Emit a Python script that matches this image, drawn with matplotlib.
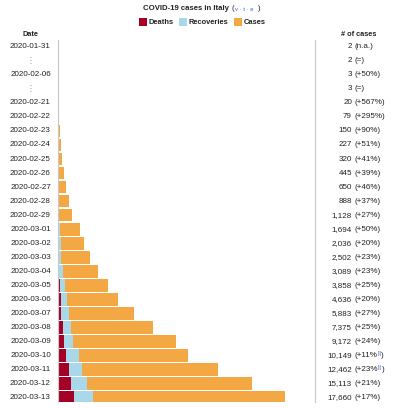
import matplotlib
matplotlib.use("Agg")
import matplotlib.pyplot as plt
from matplotlib.transforms import blended_transform_factory

plt.rcParams['font.family'] = ['Liberation Sans', 'DejaVu Sans']

# rows of the table, top to bottom ("⋮" rows are gaps in the dates)
dates = ["2020-01-31", "⋮", "2020-02-06", "⋮",
         "2020-02-21", "2020-02-22", "2020-02-23", "2020-02-24", "2020-02-25",
         "2020-02-26", "2020-02-27", "2020-02-28", "2020-02-29", "2020-03-01",
         "2020-03-02", "2020-03-03", "2020-03-04", "2020-03-05", "2020-03-06",
         "2020-03-07", "2020-03-08", "2020-03-09", "2020-03-10", "2020-03-11",
         "2020-03-12", "2020-03-13"]
cases = [2, 2, 3, 3, 20, 79, 150, 227, 320, 445, 650, 888, 1128, 1694,
         2036, 2502, 3089, 3858, 4636, 5883, 7375, 9172, 10149, 12462,
         15113, 17660]
deaths = [0, 0, 0, 0, 1, 2, 3, 7, 10, 12, 17, 21, 29, 34,
          52, 79, 107, 148, 197, 233, 366, 463, 631, 827, 1016, 1266]
recoveries = [0, 0, 0, 0, 0, 0, 0, 1, 1, 3, 45, 46, 50, 83,
              149, 160, 276, 414, 523, 589, 622, 724, 1004, 1045, 1258, 1439]
has_bar = [True, False, True, False] + [True] * 22
count_labels = ["2", "2", "3", "3", "20", "79", "150", "227", "320", "445",
                "650", "888", "1,128", "1,694", "2,036", "2,502", "3,089",
                "3,858", "4,636", "5,883", "7,375", "9,172", "10,149",
                "12,462", "15,113", "17,660"]
change_labels = ["(n.a.)", "(=)", "(+50%)", "(=)", "(+567%)", "(+295%)",
                 "(+90%)", "(+51%)", "(+41%)", "(+39%)", "(+46%)", "(+37%)",
                 "(+27%)", "(+50%)", "(+20%)", "(+23%)", "(+23%)", "(+25%)",
                 "(+20%)", "(+27%)", "(+25%)", "(+24%)", "(+11%", "(+23%",
                 "(+21%)", "(+17%)"]
footnoted = [False] * 22 + [True, True] + [False] * 2

c_death = "#A50026"
c_rec = "#A8D8EA"
c_case = "#F4A843"
c_text = "#222222"
c_link = "#3366CC"

W, H = 400, 408
fig = plt.figure(figsize=(W / 100, H / 100), dpi=100)


def fx(px):
    return px / W


def fy(py):
    return 1 - py / H


# axes for the bars, placed in pixel terms
ax_l, ax_r, ax_t, ax_b = 58, 315, 40, 402
ax = fig.add_axes([fx(ax_l), fy(ax_b), fx(ax_r - ax_l), (ax_b - ax_t) / H])
n = len(dates)
pitch = 14.04
row0 = 46.7
ax.set_ylim((ax_b - row0) / pitch, (ax_t - row0) / pitch)
bar_end = 285
ax.set_xlim(0, max(cases) * (ax_r - ax_l) / (bar_end - ax_l))

ys = list(range(n))
d = [deaths[i] if has_bar[i] else 0 for i in ys]
r = [recoveries[i] if has_bar[i] else 0 for i in ys]
a = [(cases[i] - deaths[i] - recoveries[i]) if has_bar[i] else 0 for i in ys]
left_a = [d[i] + r[i] for i in ys]
ax.barh(ys, d, height=0.9, color=c_death, linewidth=0)
ax.barh(ys, r, left=d, height=0.9, color=c_rec, linewidth=0)
ax.barh(ys, a, left=left_a, height=0.9, color=c_case, linewidth=0)

for s in ["top", "bottom"]:
    ax.spines[s].set_visible(False)
for s in ["left", "right"]:
    ax.spines[s].set_color("#C8C8C8")
    ax.spines[s].set_linewidth(0.8)
ax.set_xticks([])
ax.set_yticks([])

tr = blended_transform_factory(fig.transFigure, ax.transData)
fs = 5.8
for i in ys:
    if dates[i] == "⋮":
        ax.text(fx(30.5), i, "⋮", transform=tr, ha="center", va="center",
                fontsize=fs, color="#888888", family="DejaVu Sans")
    else:
        ax.text(fx(30.5), i, dates[i], transform=tr, ha="center", va="center",
                fontsize=fs, color=c_text)
    ax.text(fx(352), i, count_labels[i], transform=tr, ha="right",
            va="center", fontsize=fs, color=c_text)
    t = ax.text(fx(354.5), i, change_labels[i], transform=tr, ha="left",
                va="center", fontsize=fs, color=c_text)
    if footnoted[i]:
        sup = ax.annotate("[i]", xy=(1, 0.5), xycoords=t, ha="left",
                          va="bottom", fontsize=fs * 0.6, color=c_link)
        ax.annotate(")", xy=(1, 0), xycoords=(sup, t), ha="left",
                    va="bottom", fontsize=fs, color=c_text,
                    annotation_clip=False)

# header
fig.text(fx(30.5), fy(34.7), "Date", ha="center", va="center",
         fontsize=5.3, fontweight="bold", color=c_text)
fig.text(fx(359), fy(34.7), "# of cases", ha="center", va="center",
         fontsize=5.3, fontweight="bold", color=c_text)

# title
fig.text(fx(229), fy(9), "COVID-19 cases in Italy", ha="right", va="center",
         fontsize=5.6, fontweight="bold", color=c_text)
fig.text(fx(232), fy(9), "(", ha="left", va="center", fontsize=5.6,
         color=c_text)
fig.text(fx(235), fy(9.3), "v · t · e", ha="left", va="center", fontsize=4.2,
         color=c_link, family=["Liberation Sans", "DejaVu Sans"])
fig.text(fx(257.5), fy(9), ")", ha="left", va="center", fontsize=5.6,
         color=c_text)

# legend
legend_items = [("Deaths", c_death, 139), ("Recoveries", c_rec, 179),
                ("Cases", c_case, 234)]
for label, col, x0 in legend_items:
    fig.patches.append(plt.Rectangle((fx(x0), fy(26)), fx(7.5), 7.5 / H,
                                     transform=fig.transFigure,
                                     facecolor=col, edgecolor="none"))
    fig.text(fx(x0 + 9.5), fy(22), label, ha="left", va="center",
             fontsize=5.4, fontweight="bold", color=c_text)

fig.savefig("out.png", dpi=100)
